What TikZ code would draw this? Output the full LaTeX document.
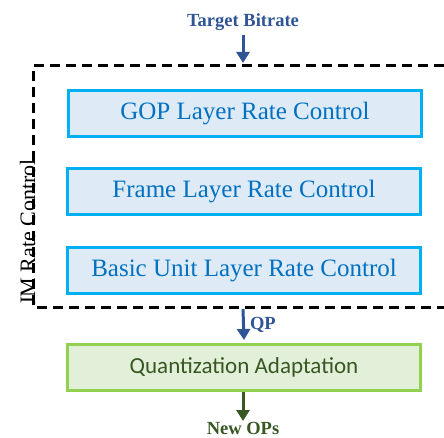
\documentclass[tikz,border=0pt]{standalone}
\usepackage{fontspec}
\setmainfont{Liberation Serif}
\newfontfamily\calib{Carlito}
\usetikzlibrary{arrows.meta}
\definecolor{tbblue}{HTML}{2F5597}
\definecolor{boxfill}{HTML}{DEEBF7}
\definecolor{boxline}{HTML}{00B0F0}
\definecolor{boxtext}{HTML}{0070C0}
\definecolor{gfill}{HTML}{E2F0D9}
\definecolor{gline}{HTML}{92D050}
\definecolor{gtext}{HTML}{385723}
\tikzset{
  layerbox/.style={draw=boxline, fill=boxfill, line width=3.3pt, minimum width=353pt, minimum height=46pt, inner sep=0pt, text=boxtext, font=\fontsize{25}{30}\selectfont},
  qabox/.style={draw=gline, fill=gfill, line width=3.3pt, minimum width=353pt, minimum height=46pt, inner sep=0pt, text=gtext, font=\calib\fontsize{23}{28}\selectfont},
  lbl/.style={font=\bfseries\fontsize{18.5}{22}\selectfont, inner sep=0pt},
  bluearrow/.style={draw=tbblue, line width=3pt, -{Triangle[width=13pt,length=11pt]}},
  greenarrow/.style={draw=gtext, line width=3pt, -{Triangle[width=13pt,length=11pt]}},
  dashline/.style={draw=black, line width=3pt, dash pattern=on 10pt off 6pt}
}
\begin{document}
\begin{tikzpicture}[x=1pt,y=-1pt]
\clip (0,0) rectangle (444,438);
\fill[white] (0,0) rectangle (444,438);
% dashed frame (open to the right edge)
\draw[dashline] (460,66) -- (33,66) -- (33,307) -- (460,307);
\coordinate (boxtop) at (243,63);
\coordinate (boxbot) at (243,309);
\node[lbl, text=tbblue] (tb) at (243,22) {Target Bitrate};
\node[layerbox] (gop) at (245,113.5) {GOP Layer Rate Control};
\node[layerbox] (frame) at (244,191.5) {Frame Layer Rate Control};
\node[layerbox] (basic) at (244,270.5) {Basic Unit Layer Rate Control};
\node[rotate=90, anchor=base, inner sep=0pt, font=\fontsize{22}{26}\selectfont] (jm) at (35,232.5) {JM Rate Control};
\node[qabox] (qa) at (244,367.5) {Quantization Adaptation};
\node[lbl, text=gtext, anchor=base] (newops) at (243,434) {New OPs};
\draw[bluearrow] (tb.south |- 0,35) -- (boxtop);
\draw[bluearrow] (boxbot) -- (qa.north |- 0,340) node[pos=0.5, right=5pt, lbl, text=tbblue] (qp) {QP};
\draw[greenarrow] (qa.south -| 243,0) -- (243,421) coordinate (gtip);
\end{tikzpicture}
\end{document}
